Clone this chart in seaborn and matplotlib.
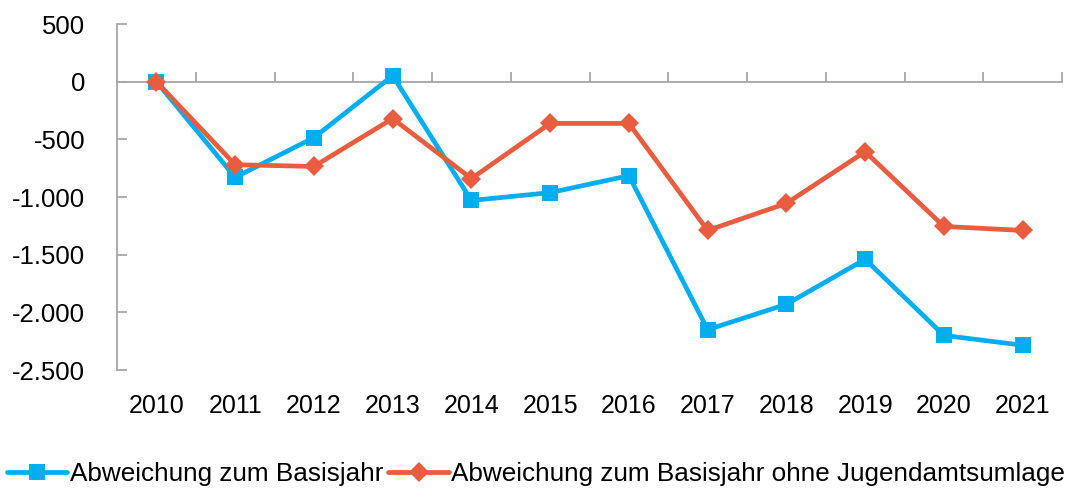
import pandas as pd
import matplotlib
matplotlib.use('Agg')
import matplotlib.pyplot as plt
import seaborn as sns
from matplotlib.ticker import FuncFormatter, MultipleLocator

# Daten
jahre = ['2010', '2011', '2012', '2013', '2014', '2015',
         '2016', '2017', '2018', '2019', '2020', '2021']
abw_basis = [0, -830, -485, 52, -1030, -962, -815, -2150, -1930, -1540, -2200, -2285]
abw_ohne_ja = [0, -720, -735, -320, -840, -362, -362, -1290, -1055, -607, -1255, -1290]

serie1 = 'Abweichung zum Basisjahr'
serie2 = 'Abweichung zum Basisjahr ohne Jugendamtsumlage'

df = pd.DataFrame({
    'jahr': jahre * 2,
    'wert': abw_basis + abw_ohne_ja,
    'serie': [serie1] * len(jahre) + [serie2] * len(jahre),
})

sns.set_style("white")
plt.rcParams['font.family'] = ['Liberation Sans', 'DejaVu Sans']
plt.rcParams['text.color'] = 'black'
plt.rcParams['xtick.labelcolor'] = 'black'
plt.rcParams['ytick.labelcolor'] = 'black'

fig = plt.figure(figsize=(10.68, 4.97), dpi=100)
ax = fig.add_axes([0.1096, 0.2555, 0.8848, 0.6962])

farben = {serie1: '#00AEEF', serie2: '#E85C3F'}
sns.lineplot(data=df, x='jahr', y='wert', hue='serie', style='serie',
             palette=farben, markers={serie1: 's', serie2: 'D'}, dashes=False,
             linewidth=3.4, markersize=12, markeredgewidth=0, ax=ax)

# Marker groessen anpassen (Raute etwas kleiner)
for line in ax.get_lines():
    if line.get_marker() == 'D':
        line.set_markersize(10.5)

ax.set_xlim(-0.5, len(jahre) - 0.5)
ax.set_ylim(-2500, 500)
ax.yaxis.set_major_locator(MultipleLocator(500))
ax.yaxis.set_major_formatter(FuncFormatter(lambda v, p: f'{int(v):,}'.replace(',', '.')))
ax.set_xlabel('')
ax.set_ylabel('')

grau = '#A6A6A6'
for s in ['top', 'right', 'bottom']:
    ax.spines[s].set_visible(False)
ax.spines['left'].set_color(grau)
ax.spines['left'].set_linewidth(1.3)
ax.tick_params(axis='y', direction='in', length=7, width=1.3, color=grau,
               labelsize=18.5, pad=23, left=True, labelcolor='black')
ax.tick_params(axis='x', length=0, labelsize=18, pad=17, labelcolor='black')

# Nulllinie mit Trennstrichen
sec = ax.secondary_xaxis(0, transform=ax.transData)
sec.set_xticks([i + 0.5 for i in range(len(jahre))])
sec.tick_params(axis='x', direction='in', length=7, width=1.3, color=grau,
                labelbottom=False, labeltop=False)
sec.spines['bottom'].set_color(grau)
sec.spines['bottom'].set_linewidth(1.3)

# Legende unten
handles, labels = ax.get_legend_handles_labels()
ax.get_legend().remove()
fig.legend(handles, labels, loc='lower center', bbox_to_anchor=(0.502, -0.005),
           ncol=2, frameon=False, fontsize=18.8, handlelength=2.3,
           handletextpad=0.1, columnspacing=0.2, borderaxespad=0.1)

plt.savefig('out.png', dpi=100)
plt.close()
